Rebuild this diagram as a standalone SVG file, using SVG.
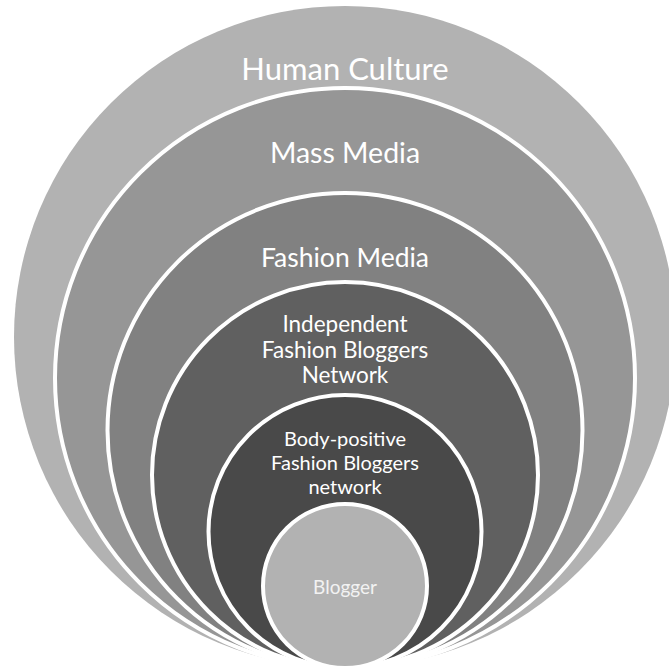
<svg xmlns="http://www.w3.org/2000/svg" width="669" height="671" viewBox="0 0 669 671">
<style>
.ring{stroke:#ffffff;stroke-width:4}
.lbl{font-family:Lato,"Liberation Sans",sans-serif;fill:#ffffff;text-anchor:middle}
</style>
<rect width="669" height="671" fill="#ffffff"/>
<g id="human-culture">
<circle cx="345" cy="337" r="331" fill="#b2b2b2"/>
<text class="lbl" x="345" y="80" font-size="31">Human Culture</text>
</g>
<g id="mass-media">
<circle class="ring" cx="345" cy="378" r="290" fill="#969696"/>
<text class="lbl" x="345" y="163" font-size="28.5">Mass Media</text>
</g>
<g id="fashion-media">
<circle class="ring" cx="345" cy="430.5" r="237.5" fill="#818181"/>
<text class="lbl" x="345" y="267" font-size="26.5">Fashion Media</text>
</g>
<g id="independent-network">
<circle class="ring" cx="345" cy="475" r="193" fill="#606060"/>
<text class="lbl" x="345" font-size="22.5"><tspan x="345" y="332">Independent</tspan><tspan x="345" y="357.5">Fashion Bloggers</tspan><tspan x="345" y="383">Network</tspan></text>
</g>
<g id="body-positive-network">
<circle class="ring" cx="345" cy="531.5" r="136.5" fill="#494949"/>
<text class="lbl" x="345" font-size="20"><tspan x="345" y="446">Body-positive</tspan><tspan x="345" y="470">Fashion Bloggers</tspan><tspan x="345" y="494">network</tspan></text>
</g>
<g id="blogger">
<circle class="ring" cx="345" cy="586" r="82" fill="#b2b2b2"/>
<text class="lbl" x="345" y="594" font-size="19" style="fill:#f2f2f2">Blogger</text>
</g>
<g id="connectors"/>
</svg>
